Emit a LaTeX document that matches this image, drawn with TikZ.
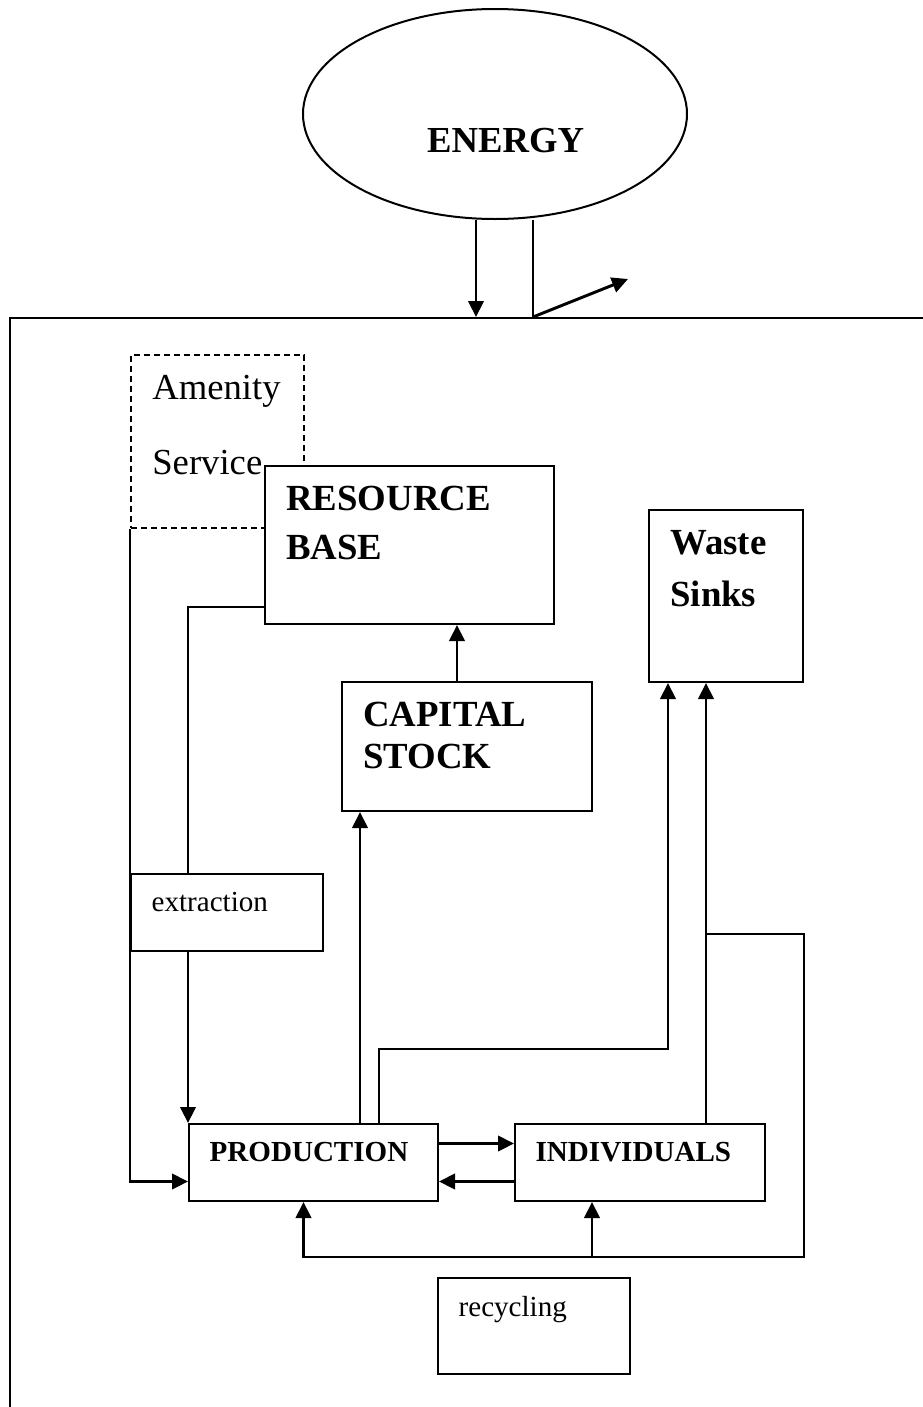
\documentclass[tikz,border=0pt]{standalone}
\usepackage{fontspec}
\setmainfont{Liberation Serif}
\usetikzlibrary{arrows.meta, shapes.geometric, calc}
\tikzset{every picture/.style={line width=1.5pt}}

\begin{document}
\begin{tikzpicture}[x=0.75pt, y=-0.75pt,
        box/.style={draw, rectangle, anchor=north west, fill=white, inner sep=0pt},
        big/.style={anchor=north west, inner sep=0pt, align=left, xshift=16pt, yshift=-15pt, font=\bfseries\fontsize{27.6}{36.75}\selectfont},
        small/.style={anchor=north west, inner sep=0pt, align=left, xshift=15.5pt, yshift=-13.5pt, font=\fontsize{21.8}{26}\selectfont},
        arr/.style={-{Triangle[length=12pt, width=11.5pt]}, line width=2.2pt}]
        \useasboundingbox (0,0) rectangle (923,1407);
        \clip (0,0) rectangle (923,1407);
        \node[draw, ellipse, minimum width=288pt, minimum height=157.5pt,
            label={[font=\bfseries\fontsize{27.5}{33}\selectfont, xshift=8pt, yshift=-20pt]center:ENERGY}] (energy) at (495,114) {};
        \node[box, fill=none, minimum width=750pt, minimum height=900pt] (env) at (9,317) {};
        \node[box, dash pattern=on 4.5pt off 3pt, minimum width=129.75pt, minimum height=129.75pt,
            label={[big, font=\fontsize{27.5}{56.25}\selectfont]north west:{Amenity\\Service}}] (amen) at (130,354) {};
        \node[box, minimum width=216.75pt, minimum height=118.5pt, label={[big]north west:{RESOURCE\\BASE}}] (res) at (264,465) {};
        \node[box, minimum width=187.5pt, minimum height=96.75pt,
            label={[big, font=\bfseries\fontsize{27.6}{31.5}\selectfont]north west:{CAPITAL\\STOCK}}] (cap) at (341,681) {};
        \node[box, minimum width=115.5pt, minimum height=129pt,
            label={[big, font=\bfseries\fontsize{27.6}{39}\selectfont]north west:{Waste\\Sinks}}] (waste) at (648,509) {};
        \node[box, minimum width=144pt, minimum height=57.75pt, label={[small]north west:extraction}] (extr) at (130,873) {};
        \node[box, minimum width=186.75pt, minimum height=57.75pt,
            label={[small, font=\bfseries\fontsize{21.8}{26}\selectfont]north west:PRODUCTION}] (prod) at (188,1123) {};
        \node[box, minimum width=187.5pt, minimum height=57.75pt,
            label={[small, font=\bfseries\fontsize{21.8}{26}\selectfont]north west:INDIVIDUALS}] (indiv) at (514,1123) {};
        \node[box, minimum width=144pt, minimum height=72pt, label={[small]north west:recycling}] (recyc) at (437,1277) {};
        \coordinate (e1) at (476,0);
        \coordinate (e2) at (533,0);
        \coordinate (out) at (628,279);
        \coordinate (c1) at ($(cap.south west)+(19,0)$);
        \coordinate (c2) at ($(cap.north)+(-10,0)$);
        \coordinate (w1) at ($(waste.south west)+(20,0)$);
        \coordinate (w2) at ($(waste.south west)+(58,0)$);
        \coordinate (loop) at ($(waste.south east |- recyc.north)+(0,-20)$);
        \coordinate (i1) at ($(indiv.south)+(-48,0)$);
        \draw[arr] (energy.south -| e1) -- (env.north -| e1);
        \draw (energy.south -| e2) -- (env.north -| e2);
        \draw[arr] (env.north -| e2) -- (out);
        \draw ($(res.south west)+(0,-18)$) -| (extr.north -| prod.west);
        \draw[arr] (amen.south west) |- ($(prod.west)+(0,19)$);
        \draw[arr] (extr.south -| prod.west) -- (prod.north west);
        \draw[arr] (prod.north -| c1) -- (c1);
        \draw[arr] (c2) -- (res.south -| c2);
        \draw[arr] ($(prod.north -| c1)+(19,0)$) |- ($(w1)+(0,366)$) -- (w1);
        \draw[arr] (indiv.north -| w2) -- (w2);
        \draw[arr] ($(w2)+(0,251)$) -| (loop) -| ($(prod.south)+(-10,0)$);
        \draw[arr] (i1 |- loop) -- (i1);
        \draw[arr] ($(prod.east)+(0,-19)$) -- ($(indiv.west)+(0,-19)$);
        \draw[arr] ($(indiv.west)+(0,19)$) -- ($(prod.east)+(0,19)$);
    \end{tikzpicture}
\end{document}
